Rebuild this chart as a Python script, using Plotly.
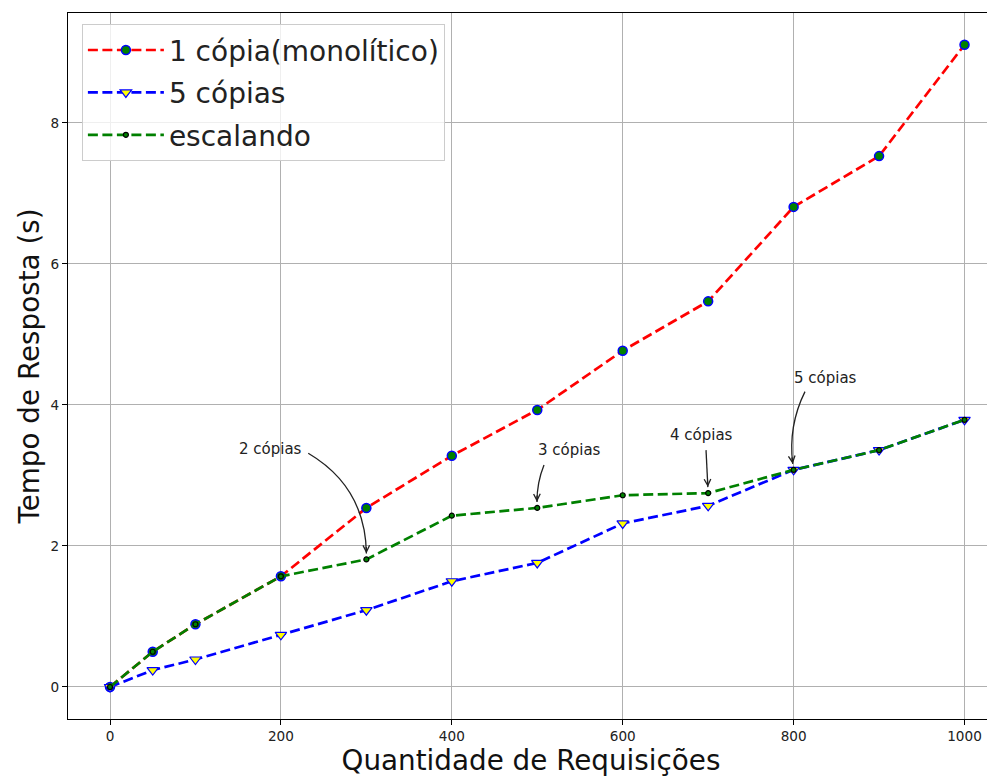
import math
import plotly.graph_objects as go

# ---------------- data ----------------
x_req = [0, 50, 100, 200, 300, 400, 500, 600, 700, 800, 900, 1000]
y_mono = [0.0, 0.50, 0.89, 1.57, 2.54, 3.28, 3.93, 4.77, 5.47, 6.81, 7.53, 9.11]
y_cinco = [0.0, 0.24, 0.39, 0.74, 1.09, 1.50, 1.76, 2.32, 2.57, 3.08, 3.36, 3.79]
y_escal = [0.0, 0.50, 0.89, 1.57, 1.81, 2.43, 2.54, 2.72, 2.75, 3.08, 3.36, 3.79]

series_names = ["1 cópia(monolítico)", "5 cópias", "escalando"]

x_ticks = [0, 200, 400, 600, 800, 1000]
y_ticks = [0, 2, 4, 6, 8]

# annotations: label, x of the annotated point (on "escalando"), text centre, arrow tail, curvature
ann_labels = ["2 cópias", "3 cópias", "4 cópias", "5 cópias"]
ann_x = [300, 500, 700, 800]
ann_text_xy = [(188.2, 3.37), (537.9, 3.36), (692.1, 3.58), (837.3, 4.38)]
ann_tail_xy = [(232.0, 3.315), (507.9, 3.15), (697.5, 3.36), (813.3, 4.19)]
ann_rad = [0.28, -0.1, 0.0, -0.15]

# ---------------- layout constants ----------------
# the page body has an 8px margin, so the figure is drawn 8px in from the window corner
FIG_W, FIG_H = 987, 771
M_L, M_R, M_T, M_B = 60, 1, 5, 60
PW = FIG_W - M_L - M_R
PH = FIG_H - M_T - M_B
XR = [-49.15, 1034.5]
YR = [-0.454, 9.56]
FONT = "DejaVu Sans"


def to_px(x, y):
    return (M_L + (x - XR[0]) / (XR[1] - XR[0]) * PW,
            M_T + (YR[1] - y) / (YR[1] - YR[0]) * PH)


def to_data(px, py):
    return (XR[0] + (px - M_L) / PW * (XR[1] - XR[0]),
            YR[1] - (py - M_T) / PH * (YR[1] - YR[0]))


fig = go.Figure()

fig.add_trace(go.Scatter(
    x=x_req, y=y_mono, name=series_names[0], mode="lines+markers",
    line=dict(color="#ff0000", width=2.7, dash="10px,4.5px"),
    marker=dict(symbol="circle", size=9, color="#008000",
                line=dict(color="#0000ff", width=1.5)),
    legendgroup="a",
))
fig.add_trace(go.Scatter(
    x=x_req, y=y_cinco, name=series_names[1], mode="lines+markers",
    line=dict(color="#0000ff", width=2.7, dash="10px,4.5px"),
    marker=dict(symbol="triangle-down", size=10, color="#ffff00",
                line=dict(color="#0000ff", width=1.2)),
    legendgroup="b",
))
fig.add_trace(go.Scatter(
    x=x_req, y=y_escal, name=series_names[2], mode="lines+markers",
    line=dict(color="#008000", width=2.7, dash="10px,4.5px"),
    marker=dict(symbol="circle", size=5, color="#008000",
                line=dict(color="#000000", width=1.2)),
    legendgroup="c",
))

shapes = []
annotations = []
SHRINK = 6.0
for lab, xv, txy, tail, rad in zip(ann_labels, ann_x, ann_text_xy, ann_tail_xy, ann_rad):
    yv = y_escal[x_req.index(xv)]
    annotations.append(dict(
        x=txy[0], y=txy[1], xref="x", yref="y", text=lab, showarrow=False,
        font=dict(family=FONT, size=15, color="#222222"),
        xanchor="center", yanchor="middle",
    ))
    sx, sy = to_px(*tail)
    ex0, ey0 = to_px(xv, yv)
    dx, dy = ex0 - sx, ey0 - sy
    cx = (sx + ex0) / 2 + rad * dy
    cy = (sy + ey0) / 2 - rad * dx
    vx, vy = ex0 - cx, ey0 - cy
    n = math.hypot(vx, vy)
    ex, ey = ex0 - vx / n * SHRINK, ey0 - vy / n * SHRINK
    dx, dy = ex - sx, ey - sy
    cx = (sx + ex) / 2 + rad * dy
    cy = (sy + ey) / 2 - rad * dx
    ds = to_data(sx, sy)
    dc = to_data(cx, cy)
    de = to_data(ex, ey)
    shapes.append(dict(
        type="path", xref="x", yref="y",
        path=f"M{ds[0]:.3f},{ds[1]:.4f} Q{dc[0]:.3f},{dc[1]:.4f} {de[0]:.3f},{de[1]:.4f}",
        line=dict(color="#222222", width=1.3),
    ))
    ux, uy = ex - cx, ey - cy
    n = math.hypot(ux, uy)
    annotations.append(dict(
        x=de[0], y=de[1], xref="x", yref="y", text="", showarrow=True,
        ax=-ux / n * 8, ay=-uy / n * 8,
        arrowhead=5, arrowsize=1.0, arrowwidth=1.3, arrowcolor="#222222",
        standoff=0,
    ))

fig.update_layout(
    width=FIG_W, height=FIG_H,
    margin=dict(l=M_L, r=M_R, t=M_T, b=M_B, autoexpand=False),
    paper_bgcolor="white", plot_bgcolor="white",
    font=dict(family=FONT, color="#222222"),
    shapes=shapes,
    annotations=annotations,
    legend=dict(
        x=0.015, y=0.984, xanchor="left", yanchor="top",
        font=dict(family=FONT, size=28, color="#222222"),
        bgcolor="rgba(255,255,255,0.8)", bordercolor="#cccccc", borderwidth=1,
        tracegroupgap=3, itemwidth=76,
    ),
    showlegend=True,
)

fig.update_xaxes(
    range=XR, tickvals=x_ticks, ticktext=[str(v) for v in x_ticks],
    showgrid=True, gridcolor="#b0b0b0", gridwidth=1, zeroline=False,
    showline=True, linecolor="black", linewidth=1, mirror=True,
    ticks="outside", ticklen=5, tickcolor="black", tickwidth=1,
    tickfont=dict(family=FONT, size=13.6, color="#222222"),
    title=dict(text="Quantidade de Requisições", standoff=5,
               font=dict(family=FONT, size=27.8, color="#111111")),
)
fig.update_yaxes(
    range=YR, tickvals=y_ticks, ticktext=[str(v) for v in y_ticks],
    showgrid=True, gridcolor="#b0b0b0", gridwidth=1, zeroline=False,
    showline=True, linecolor="black", linewidth=1, mirror=False,
    ticks="outside", ticklen=5, tickcolor="black", tickwidth=1,
    tickfont=dict(family=FONT, size=13.6, color="#222222"),
    title=dict(text="Tempo de Resposta (s)", standoff=2,
               font=dict(family=FONT, size=27.8, color="#111111")),
)

fig.write_html("out.html")
